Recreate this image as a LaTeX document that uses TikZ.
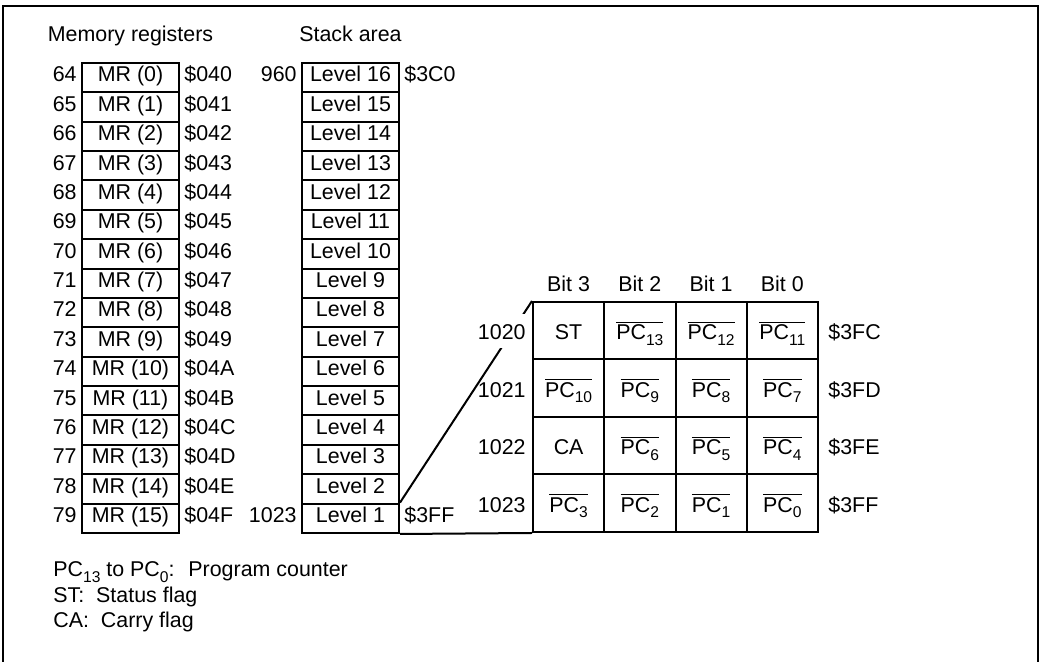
\documentclass[tikz,border=0pt]{standalone}
\usepackage{fontspec}
\setmainfont{Liberation Sans}
\usetikzlibrary{positioning}
\newcommand\lowsub[1]{\raisebox{-0.45ex}{\fontsize{7.8}{9}\selectfont#1}}
\newcommand\pcbar[1]{$\overline{\mbox{PC\lowsub{#1}}}$}

\begin{document}
\begin{tikzpicture}[x=0.5pt,y=-0.5pt,
  every node/.style={font=\fontsize{10.7}{13}\selectfont},
  regbox/.style={draw,line width=1pt,minimum width=48.5pt,minimum height=14.6875pt,inner sep=0pt,text height=7.7pt,text depth=3.4pt},
  bitcell/.style={draw,line width=1pt,minimum width=35.625pt,minimum height=28.75pt,inner sep=0pt,text height=11pt,text depth=1.8pt},
  addr/.style={inner sep=2pt,text height=7.7pt,text depth=3.4pt},
  rowaddr/.style={inner sep=2pt,text height=11pt,text depth=1.8pt}]
\useasboundingbox (0,0) rectangle (1041,662);
\draw[line width=1pt] (3,662) -- (3,6) -- (1038,6) -- (1038,662);
\node[anchor=base] (mrhead) at (130.5,42) {Memory registers};
\node[anchor=base] (sthead) at (350.5,42) {Stack area};
\foreach \i/\h in {0/0,1/1,2/2,3/3,4/4,5/5,6/6,7/7,8/8,9/9,10/A,11/B,12/C,13/D,14/E,15/F}{
  \pgfmathtruncatemacro\n{64+\i}
  \pgfmathtruncatemacro\lv{16-\i}
  \node[regbox,label={[addr]left:\n},label={[addr]right:\$04\h}] (mr\i) at (130.5,{63+29.375*(\i+0.5)}) {MR (\i)};
  \node[regbox] (lv\lv) at (350.5,{63+29.375*(\i+0.5)}) {Level \lv};
}
\node[addr,left=0pt of lv16] (a960) {960};
\node[addr,right=0pt of lv16] (h3c0) {\$3C0};
\node[addr,left=0pt of lv1] (a1023) {1023};
\node[addr,right=0pt of lv1] (h3ff) {\$3FF};
\foreach \r/\a/\b/\c/\d in {0/ST/\pcbar{13}/\pcbar{12}/\pcbar{11},
  1/\pcbar{10}/\pcbar{9}/\pcbar{8}/\pcbar{7},
  2/CA/\pcbar{6}/\pcbar{5}/\pcbar{4},
  3/\pcbar{3}/\pcbar{2}/\pcbar{1}/\pcbar{0}}
  \foreach \k/\v in {0/\a,1/\b,2/\c,3/\d}
    \node[bitcell] (b\r\k) at ({533+71.25*(\k+0.5)},{302+57.5*(\r+0.5)}) {\v};
\draw[line width=1pt] (lv1.north east) -- (b00.north west);
\draw[line width=1pt] (lv1.south east) -- (b30.south west);
\foreach \r/\x in {0/C,1/D,2/E,3/F}{
  \pgfmathtruncatemacro\n{1020+\r}
  \ifnum\r=0 \def\fc{white}\else\def\fc{none}\fi
  \node[rowaddr,fill=\fc,left=1pt of b\r0] (d\r) {\n};
  \node[rowaddr,right=2.5pt of b\r3] (x\r) {\$3F\x};
}
\foreach \k in {0,...,3}{
  \pgfmathtruncatemacro\bt{3-\k}
  \node[anchor=base] (bit\k) at ([yshift=4.5pt]b0\k.north) {Bit \bt};
}
\node[anchor=base west,inner sep=0pt] (leg1) at (53,577) {PC\lowsub{13} to PC\lowsub{0}:~ Program counter};
\node[anchor=base west,inner sep=0pt] (leg2) at (53,603) {ST:~ Status flag};
\node[anchor=base west,inner sep=0pt] (leg3) at (53,628) {CA:~ Carry flag};
\end{tikzpicture}
\end{document}
